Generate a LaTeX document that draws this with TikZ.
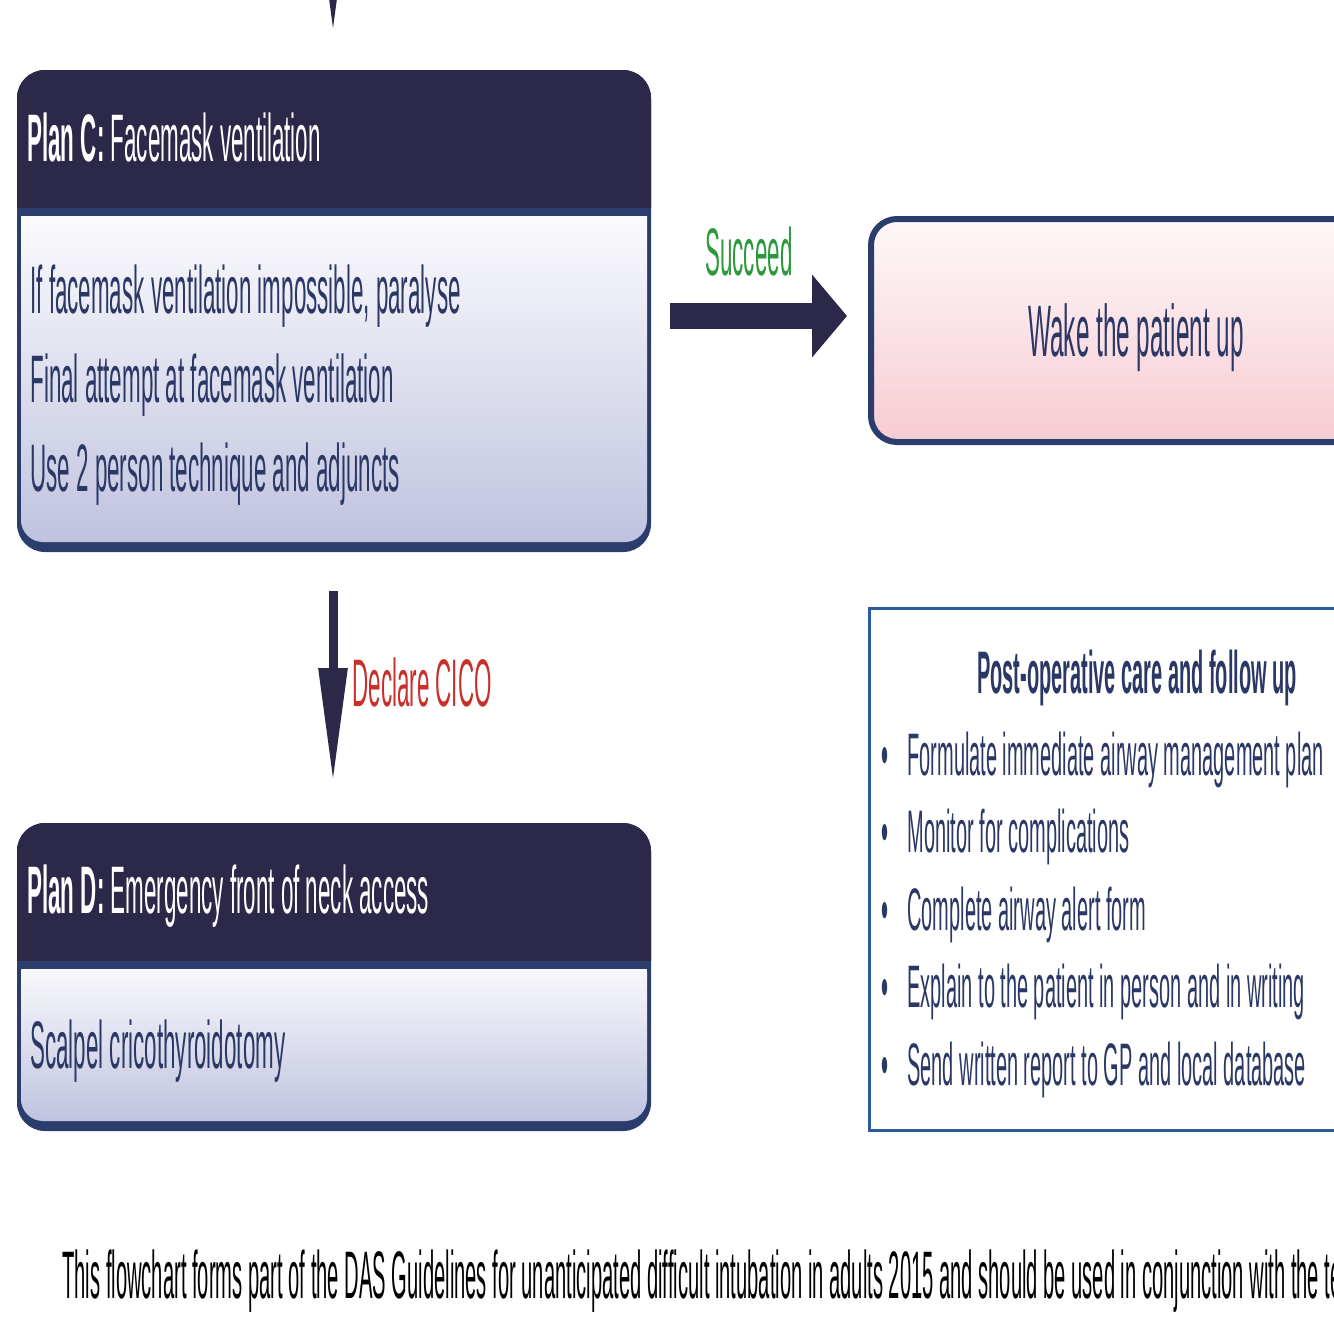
\documentclass[tikz,border=0pt]{standalone}
\usepackage{fontspec}
\setmainfont{Liberation Sans}
\newfontfamily\fA[FakeStretch=0.333]{Liberation Sans}
\newfontfamily\fF[FakeStretch=0.30]{Liberation Sans}
\usetikzlibrary{arrows.meta,calc}
\definecolor{hdr}{HTML}{2C2849}
\definecolor{bordc}{HTML}{2A3D6C}
\definecolor{txt}{HTML}{2B3866}
\definecolor{lav}{HTML}{C0C3DF}
\definecolor{pinkb}{HTML}{F6CBD3}
\definecolor{pinkt}{HTML}{FFF8F9}
\definecolor{grn}{HTML}{2C9A3C}
\definecolor{redc}{HTML}{C9302C}
\definecolor{postc}{HTML}{2D5C9C}
\definecolor{arr}{HTML}{2B2849}
\tikzset{
  boxn/.style={draw=none, inner sep=0pt, outer sep=0pt},
  hd/.style={anchor=base west, inner sep=0pt, text=white, font=\fA\fontsize{33.6pt}{36pt}\selectfont},
  bd/.style={anchor=base west, inner sep=0pt, text=txt, font=\fA\fontsize{33.6pt}{36pt}\selectfont},
  pt/.style={anchor=base west, inner sep=0pt, text=txt, font=\fA\fontsize{30pt}{32pt}\selectfont},
  fatarrow/.style={draw=arr, line width=13pt, line cap=butt, -{Triangle[length=17.5pt,width=40.5pt]}},
  varrow/.style={draw=arr, line width=4.5pt, line cap=butt, -{Triangle[length=57.5pt,width=13.5pt]}},
}
\begin{document}
\begin{tikzpicture}[x=0.5pt,y=-0.5pt]
\useasboundingbox (0,0) rectangle (1334,1334);
\clip (0,0) rectangle (1334,1334);
\fill[white] (0,0) rectangle (1334,1334);

% reference nodes for the boxes
\node[boxn, minimum width=317pt, minimum height=241pt] (boxC) at (334,311) {};
\node[boxn, minimum width=317pt, minimum height=154pt] (boxD) at (334,977) {};
\node[boxn, minimum width=276pt, minimum height=115.5pt] (boxW) at (1144,330.5) {};
\node[boxn, minimum width=276pt, minimum height=262pt] (boxP) at (1144,869) {};

% ---- Plan C box
\fill[bordc, rounded corners=14pt] (17,70) rectangle (651,552);
\begin{scope}
  \clip (0,0) rectangle (700,207);
  \fill[hdr, rounded corners=14pt] (17,70) rectangle (651,400);
\end{scope}
\begin{scope}
  \clip (0,216) rectangle (700,600);
  \shade[top color=white, bottom color=lav, rounded corners=11pt] (21,190) rectangle (647,542);
\end{scope}

% ---- Plan D box
\fill[bordc, rounded corners=14pt] (17,823) rectangle (651,1131);
\begin{scope}
  \clip (0,800) rectangle (700,960);
  \fill[hdr, rounded corners=14pt] (17,823) rectangle (651,1100);
\end{scope}
\begin{scope}
  \clip (0,969) rectangle (700,1200);
  \shade[top color=white, bottom color=lav, rounded corners=11pt] (21,950) rectangle (647,1121);
\end{scope}

% ---- Wake box
\path[draw=bordc, line width=3pt, rounded corners=13pt, top color=pinkt, bottom color=pinkb] (871,219) rectangle (1420,442);

% ---- Post-op box
\draw[postc, line width=1.5pt, fill=white] (869,608) rectangle (1420,1130);

% ---- texts
\node[hd] (tC) at (27,161) {\textbf{Plan C:} Facemask ventilation};
\node[bd] (c1) at (30,313) {If facemask ventilation impossible, paralyse};
\node[bd] (c2) at (30,402) {Final attempt at facemask ventilation};
\node[bd] (c3) at (30,491) {Use 2 person technique and adjuncts};

\node[hd] (tD) at (27,913) {\textbf{Plan D:} Emergency front of neck access};
\node[bd] (d1) at (30,1068) {Scalpel cricothyroidotomy};

\node[anchor=base, inner sep=0pt, text=txt, font=\fA\fontsize{36.5pt}{39pt}\selectfont] (w1) at (1136,356) {Wake the patient up};

\node[anchor=base, inner sep=0pt, text=txt, font=\fA\fontsize{30pt}{32pt}\selectfont\bfseries] (pT) at (1137,693) {Post-operative care and follow up};
\node[pt] (b1) at (881,775) {•};
\node[pt] (p1) at (907,775) {Formulate immediate airway management plan};
\node[pt] (b2) at (881,852) {•};
\node[pt] (p2) at (907,852) {Monitor for complications};
\node[pt] (b3) at (881,930) {•};
\node[pt] (p3) at (907,930) {Complete airway alert form};
\node[pt] (b4) at (881,1007) {•};
\node[pt] (p4) at (907,1007) {Explain to the patient in person and in writing};
\node[pt] (b5) at (881,1085) {•};
\node[pt] (p5) at (907,1085) {Send written report to GP and local database};

\node[anchor=base west, inner sep=0pt, text=grn, font=\fA\fontsize{33.6pt}{36pt}\selectfont] (lS) at (705,275) {Succeed};
\node[anchor=base west, inner sep=0pt, text=redc, font=\fA\fontsize{33.6pt}{36pt}\selectfont] (lD) at (352,706) {Declare CICO};

\node[anchor=base west, inner sep=0pt, text=black, font=\fF\fontsize{33.6pt}{36pt}\selectfont] (foot) at (62,1298) {This flowchart forms part of the DAS Guidelines for unanticipated difficult intubation in adults 2015 and should be used in conjunction with the text.};

% ---- arrows
\coordinate (topin) at (333,-120);
\draw[varrow] (topin) -- ($(boxC.north)+(-1,-37)$);
\draw[fatarrow] ($(boxC.east)+(19,5)$) -- ($(boxW.west)+(-21,-14.5)$);
\draw[varrow] ($(boxC.south)+(-1,39)$) -- ($(boxD.north)+(-1,-40)$);
\end{tikzpicture}
\end{document}
